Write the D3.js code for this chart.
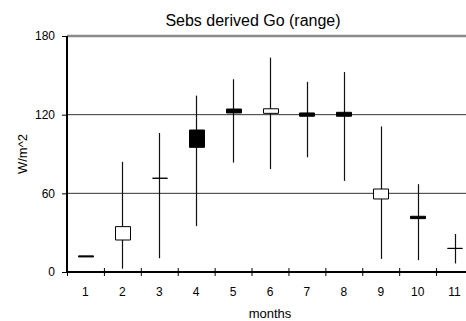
<!DOCTYPE html>
<html>
<head>
<meta charset="utf-8">
<script src="https://cdn.jsdelivr.net/npm/d3@7"></script>
<style>
  body { margin: 0; background: #fff; }
  text { font-family: "Liberation Sans", Arial, sans-serif; fill: #000; }
</style>
</head>
<body>
<div id="app"></div>
<script>
// monthly range of Go (W/m^2)
const months = [ 1, 2, 3, 4, 5, 6, 7, 8, 9, 10, 11 ];
const high  = [ 12.3, 84, 106, 134.5, 147, 163.5, 145, 152.5, 111, 67, 29 ];
const low   = [ 11.5, 2.5, 10.5, 35, 83.5, 78.5, 87.5, 69.5, 10, 9, 6.5 ];
const open  = [ 12.3, 24.4, 71.5, 108.3, 124.3, 121, 121.3, 121.8, 55.7, 42.5, 18 ];
const close = [ 11.5, 34.6, 71.5, 95.1, 121.3, 124.5, 118.8, 118.8, 63.3, 40.7, 18 ];
const yTicks = [ 0, 60, 120, 180 ];

const data = months.map( ( m, i ) => {
  return { month: m, high: high[i], low: low[i], open: open[i], close: close[i] };
} );

const W = 466, H = 321;
const plotLeft = 67, plotRight = 473, plotTop = 36, plotBottom = 272;

const svg = d3.select( '#app' )
  .append( 'svg' )
  .attr( 'width', W )
  .attr( 'height', H );

const xScale = d3.scaleLinear().domain( [ 0.5, 11.5 ] ).range( [ plotLeft, plotRight ] );
const yScale = d3.scaleLinear().domain( [ 0, 180 ] ).range( [ plotBottom, plotTop ] );

// grid
svg.append( 'g' )
  .selectAll( 'line' )
  .data( yTicks.filter( v => v > 0 ) )
  .enter()
  .append( 'line' )
  .attr( 'x1', plotLeft )
  .attr( 'x2', plotRight )
  .attr( 'y1', d => yScale( d ) )
  .attr( 'y2', d => yScale( d ) )
  .attr( 'stroke', d => d === 180 ? '#8a8a8a' : '#333' )
  .attr( 'stroke-width', d => d === 180 ? 2.5 : 1 );

// wicks
svg.append( 'g' )
  .selectAll( 'line' )
  .data( data.filter( d => d.high - d.low > 1 ) )
  .enter()
  .append( 'line' )
  .attr( 'x1', d => Math.round( xScale( d.month ) ) + 0.5 )
  .attr( 'x2', d => Math.round( xScale( d.month ) ) + 0.5 )
  .attr( 'y1', d => yScale( d.high ) )
  .attr( 'y2', d => yScale( d.low ) )
  .attr( 'stroke', '#111' )
  .attr( 'stroke-width', 1.2 );

// bodies (path so that open == close still draws a line)
const bw = 15;
svg.append( 'g' )
  .selectAll( 'path' )
  .data( data )
  .enter()
  .append( 'path' )
  .attr( 'd', d => {
    const x0 = Math.round( xScale( d.month ) - bw / 2 ) + 0.5;
    const y0 = yScale( Math.max( d.open, d.close ) );
    const h = Math.abs( yScale( d.open ) - yScale( d.close ) );
    return `M${x0},${y0}h${bw}v${h}h${-bw}Z`;
  } )
  .attr( 'fill', d => d.close < d.open ? '#000' : '#fff' )
  .attr( 'stroke', '#000' )
  .attr( 'stroke-width', 1 );

// y axis
const yAxis = svg.append( 'g' )
  .attr( 'transform', `translate(${plotLeft},0)` )
  .call( d3.axisLeft( yScale ).tickValues( yTicks ).tickSize( 5 ).tickPadding( 7 ) );
yAxis.select( '.domain' ).attr( 'stroke', '#000' ).attr( 'stroke-width', 2 ).attr( 'd', `M0,${plotTop}V${plotBottom}` );
yAxis.selectAll( 'text' ).style( 'font-size', '12px' ).attr( 'font-family', null );
yAxis.selectAll( '.tick line' ).attr( 'stroke', '#000' );

// x axis: ticks between months, labels at month centres
const bounds = d3.range( 0, 12 ).map( k => k + 0.5 );
const xAxis = svg.append( 'g' )
  .attr( 'transform', `translate(0,${plotBottom})` )
  .call( d3.axisBottom( xScale ).tickValues( bounds ).tickSize( 4 ).tickFormat( '' ) );
xAxis.select( '.domain' ).attr( 'stroke', '#000' ).attr( 'stroke-width', 2 ).attr( 'd', `M${plotLeft},0H${plotRight}` );
xAxis.selectAll( '.tick line' ).attr( 'y1', -4 ).attr( 'stroke', '#000' );

svg.append( 'g' )
  .selectAll( 'text' )
  .data( months )
  .enter()
  .append( 'text' )
  .attr( 'x', d => xScale( d ) )
  .attr( 'y', 296 )
  .attr( 'text-anchor', 'middle' )
  .style( 'font-size', '12px' )
  .text( d => d );

// titles
svg.append( 'text' )
  .attr( 'x', 253 )
  .attr( 'y', 26 )
  .attr( 'text-anchor', 'middle' )
  .style( 'font-size', '16px' )
  .text( 'Sebs derived Go (range)' );

svg.append( 'text' )
  .attr( 'x', ( plotLeft + plotRight ) / 2 )
  .attr( 'y', 318 )
  .attr( 'text-anchor', 'middle' )
  .style( 'font-size', '13px' )
  .text( 'months' );

svg.append( 'text' )
  .attr( 'transform', 'translate(27,154) rotate(-90)' )
  .attr( 'text-anchor', 'middle' )
  .style( 'font-size', '13px' )
  .text( 'W/m^2' );
</script>
</body>
</html>
